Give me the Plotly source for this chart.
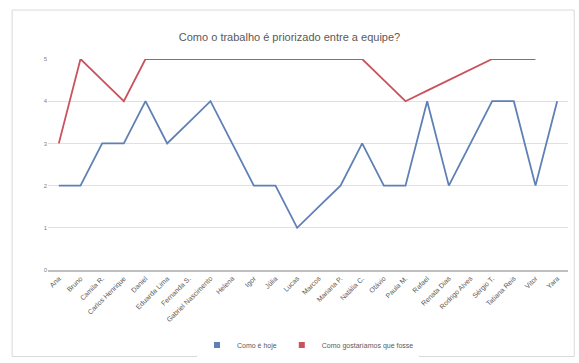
import plotly.graph_objects as go

# Respondents along the category axis
categorias = [
    "Ana", "Bruno", "Camila R.", "Carlos Henrique", "Daniel", "Eduarda Lima",
    "Fernanda S.", "Gabriel Nascimento", "Helena", "Igor", "Júlia", "Lucas",
    "Marcos", "Mariana P.", "Natália C.", "Otávio", "Paula M.", "Rafael",
    "Renata Dias", "Rodrigo Alves", "Sérgio T.", "Tatiana Reis", "Vitor", "Yara",
]

# Scores (0–5) for each respondent
como_e_hoje = [2, 2, 3, 3, 4, 3, 3.5, 4, 3, 2, 2, 1, 1.5, 2, 3, 2, 2, 4, 2, 3, 4, 4, 2, 4]
como_deveria_ser = [3, 5, 4.5, 4, 5, 5, 5, 5, 5, 5, 5, 5, 5, 5, 5, 4.5, 4, 4.25, 4.5, 4.75, 5, 5, 5, None]

titulo = "Como o trabalho é priorizado entre a equipe?"
nome_serie_1 = "Como é hoje"
nome_serie_2 = "Como gostaríamos que fosse"

cor_1 = "#5f80b5"
cor_2 = "#c9525c"

fig = go.Figure()
for nome, valores, cor in [(nome_serie_1, como_e_hoje, cor_1),
                           (nome_serie_2, como_deveria_ser, cor_2)]:
    fig.add_trace(go.Scatter(
        x=categorias, y=valores, mode="lines", name=nome, legendgroup=nome,
        showlegend=False, line=dict(color=cor, width=1.8),
    ))
    # compact square swatch for the legend entry
    fig.add_trace(go.Scatter(
        x=[None], y=[None], mode="markers", name=nome, legendgroup=nome,
        marker=dict(symbol="square", size=6, color=cor),
    ))

fig.update_layout(
    width=579, height=363,
    margin=dict(l=48, r=11, t=59, b=93, autoexpand=False),
    paper_bgcolor="white", plot_bgcolor="white",
    font=dict(family="Liberation Sans, Arial, sans-serif", color="#595959", size=7),
    title=dict(text=titulo, x=0.5, xanchor="center", y=0.898, yanchor="middle",
               font=dict(size=11, color="#595959")),
    showlegend=True,
    legend=dict(orientation="h", x=0.5, xanchor="center", y=-0.355, yanchor="middle",
                font=dict(size=7, color="#595959"), itemwidth=30),
    xaxis=dict(
        type="category", tickangle=-45, showgrid=False, automargin=False,
        showline=True, linecolor="#bfbfbf", linewidth=1.5,
        ticks="", tickfont=dict(size=7, color="#595959"),
        range=[-0.5, len(categorias) - 0.5],
    ),
    yaxis=dict(
        range=[0, 5], dtick=1, showgrid=True, gridcolor="#e0e0e0", gridwidth=1,
        zeroline=False, showline=False, ticks="", automargin=False,
        tickfont=dict(size=6, color="#7f7f7f"),
    ),
    shapes=[dict(
        type="rect", xref="paper", yref="paper",
        x0=-0.069, x1=1.012, y0=-0.41, y1=1.232,
        line=dict(color="#d9d9d9", width=1), fillcolor="rgba(0,0,0,0)", layer="below",
    )],
)

fig.write_html("out.html")
